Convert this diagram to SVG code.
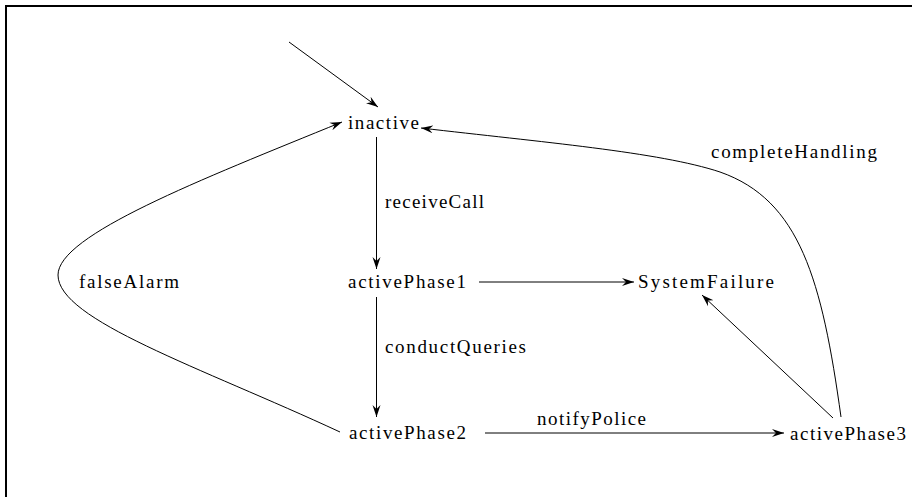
<svg xmlns="http://www.w3.org/2000/svg" width="912" height="497" viewBox="0 0 912 497">
  <style>
    text { font-family: "Liberation Serif", "DejaVu Serif", serif; font-size: 19px; fill: #000; }
    .edge { fill: none; stroke: #000; stroke-width: 1; }
    .frame { fill: none; stroke: #000; stroke-width: 2; }
  </style>
  <defs>
    <marker id="arrow" viewBox="-12 -5 13 10" markerWidth="13" markerHeight="10" refX="0" refY="0" orient="auto" markerUnits="userSpaceOnUse">
      <path d="M0,0 L-12,-4 L-8,0 L-12,4 Z" fill="#000"/>
    </marker>
  </defs>

  <rect x="0" y="0" width="912" height="497" fill="#fff"/>
  <path class="frame" d="M6,497 L6,6 L912,6"/>

  <g id="connectors">
    <path class="edge" d="M289,42 L378,107" marker-end="url(#arrow)"/>
    <path class="edge" d="M376.5,137 L376.5,269" marker-end="url(#arrow)"/>
    <path class="edge" d="M376.5,297 L376.5,417" marker-end="url(#arrow)"/>
    <path class="edge" d="M479,282 L634,282" marker-end="url(#arrow)"/>
    <path class="edge" d="M485,433 L784,433" marker-end="url(#arrow)"/>
    <path class="edge" d="M833,418 L702,295" marker-end="url(#arrow)"/>
    <path class="edge" d="M841,417 C822,280 800,200 720,172 C660,152 540,142 421,128" marker-end="url(#arrow)"/>
    <path class="edge" d="M340,432 C200,367 58,320 58,275 C58,235 200,180 342,122" marker-end="url(#arrow)"/>
    <text x="385" y="208" textLength="99" lengthAdjust="spacing">receiveCall</text>
    <text x="385" y="353" textLength="141" lengthAdjust="spacing">conductQueries</text>
    <text x="537" y="425" textLength="109" lengthAdjust="spacing">notifyPolice</text>
    <text x="711" y="158" textLength="166" lengthAdjust="spacing">completeHandling</text>
    <text x="79" y="288" textLength="100" lengthAdjust="spacing">falseAlarm</text>
  </g>

  <g id="inactive">
    <text x="348" y="129" textLength="71" lengthAdjust="spacing">inactive</text>
  </g>
  <g id="activePhase1">
    <text x="348" y="288" textLength="118" lengthAdjust="spacing">activePhase1</text>
  </g>
  <g id="SystemFailure">
    <text x="638" y="288" textLength="136" lengthAdjust="spacing">SystemFailure</text>
  </g>
  <g id="activePhase2">
    <text x="349" y="439" textLength="117" lengthAdjust="spacing">activePhase2</text>
  </g>
  <g id="activePhase3">
    <text x="790" y="440" textLength="116" lengthAdjust="spacing">activePhase3</text>
  </g>
</svg>
